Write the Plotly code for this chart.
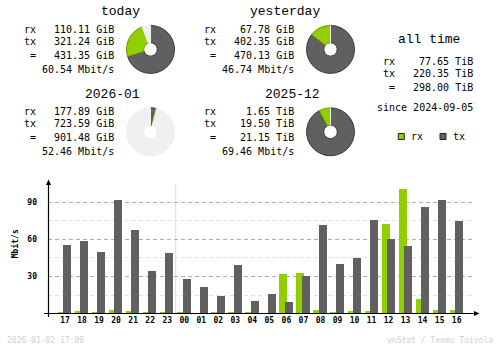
import plotly.graph_objects as go

# ---------------- data ----------------
hours = ["17", "18", "19", "20", "21", "22", "23", "00", "01", "02", "03", "04",
         "05", "06", "07", "08", "09", "10", "11", "12", "13", "14", "15", "16"]
rx_mbit = [1.1, 1.9, 1.1, 2.7, 1.9, 1.1, 1.1, 1.1, 0.3, 1.1, 1.1, 1.1,
           0.3, 31.9, 32.7, 2.7, 1.1, 1.9, 1.9, 72.4, 100.8, 11.6, 2.7, 2.7]
tx_mbit = [55.4, 58.7, 49.7, 91.9, 67.6, 34.3, 48.9, 27.8, 21.4, 14.1, 39.2, 10.0,
           15.7, 9.2, 30.3, 71.6, 40.0, 44.9, 75.7, 60.3, 54.6, 86.2, 91.9, 74.9]
y_ticks = [30, 60, 90]
y_minor = [15, 45, 75]

period_titles = ["today", "yesterday", "2026-01", "2025-12"]
period_rx = [110.11, 67.78, 177.89, 1.65]
period_tx = [321.24, 402.35, 723.59, 19.50]
period_total = [431.35, 470.13, 901.48, 21.15]
period_unit = ["GiB", "GiB", "GiB", "TiB"]
period_rate = [60.54, 46.74, 52.46, 69.46]
period_fill = [0.943, 1.0, 0.0416, 1.0]   # share of the ring that is used

alltime_rx = "77.65 TiB"
alltime_tx = "220.35 TiB"
alltime_total = "298.00 TiB"
since_text = "since 2024-09-05"
stamp_text = "2026-01-02 17:00"
credit_text = "vnStat / Teemu Toivola"

# ---------------- styling ----------------
W, H = 500, 348
C_RX, C_TX, C_BG2 = "#92CF00", "#606060", "#F0F0F0"
C_RXD, C_TXD = "#6E9C00", "#3A3A3A"
MONO = "DejaVu Sans Mono"
TITLE_FONT = "Liberation Mono"


def px(x):
    return x / W


def py(y):
    return 1 - y / H


fig = go.Figure()

# ---------------- hourly bars ----------------
xs = list(range(len(hours)))
fig.add_trace(go.Bar(x=xs, y=rx_mbit, marker=dict(color=C_RX, line=dict(width=0)),
                     width=0.47, offset=-0.41, showlegend=False, hoverinfo="skip"))
fig.add_trace(go.Bar(x=xs, y=tx_mbit, marker=dict(color=C_TX, line=dict(width=0)),
                     width=0.47, offset=-0.10, showlegend=False, hoverinfo="skip"))

# ---------------- donuts ----------------
centers = [(150.5, 49.4), (330.5, 49.4), (150.5, 131.8), (330.5, 131.8)]
R = 24.0
for i, (cx, cy) in enumerate(centers):
    tot = period_total[i]
    rest = tot / period_fill[i] - tot
    fig.add_trace(go.Pie(
        values=[period_tx[i], period_rx[i], rest],
        marker=dict(colors=[C_TX, C_RX, C_BG2],
                    line=dict(color=[C_TXD, C_RXD, C_BG2], width=1)),
        sort=False, direction="clockwise", rotation=0, hole=0.28,
        textinfo="none", hoverinfo="skip", showlegend=False,
        domain=dict(x=[px(cx - R), px(cx + R)], y=[py(cy + R), py(cy - R)]),
    ))

annotations = []
shapes = []


def txt(x, y, s, size=10, anchor="right", color="#000000", font=MONO, angle=0):
    annotations.append(dict(x=px(x), y=py(y), xref="paper", yref="paper", text=s,
                            showarrow=False, xanchor=anchor, yanchor="middle",
                            textangle=angle,
                            font=dict(family=font, size=size, color=color)))


# period blocks
for i in range(4):
    dx = 180 * (i % 2)
    dy = 82.4 * (i // 2)
    u = period_unit[i]
    txt(142 + dx, 11.7 + dy, period_titles[i], size=13, font=TITLE_FONT)
    rows = [("rx", f"{period_rx[i]:.2f} {u}"),
            ("tx", f"{period_tx[i]:.2f} {u}"),
            ("=", f"{period_total[i]:.2f} {u}")]
    for (lab, val), yy in zip(rows, [29.3, 41.3, 55.0]):
        txt(37.5 + dx, yy + dy, lab)
        txt(115.5 + dx, yy + dy, val)
    txt(115.5 + dx, 69.3 + dy, f"{period_rate[i]:.2f} Mbit/s")

# all time block
txt(428.7, 39.3, "all time", size=13, anchor="center", font=TITLE_FONT)
for (lab, val), yy in zip([("rx", alltime_rx), ("tx", alltime_tx), ("=", alltime_total)],
                          [61.7, 73.3, 87.7]):
    txt(396.5, yy, lab)
    txt(474.5, yy, val)
txt(474.5, 107.7, since_text)

# legend
for x0, col, lab in [(398.3, C_RX, "rx"), (440.0, C_TX, "tx")]:
    shapes.append(dict(type="rect", xref="paper", yref="paper",
                       x0=px(x0), x1=px(x0 + 6), y0=py(139.5), y1=py(133.5),
                       fillcolor=col, line=dict(color="#202020", width=1)))
    txt(x0 + 10.5, 136.3, lab, anchor="left")

# footer
txt(5, 340.3, stamp_text, size=8, anchor="left", color="#D0D0D0")
txt(495, 340.3, credit_text, size=8, anchor="right", color="#D0D0D0")

# y axis title
txt(14.5, 243.7, "<b>Mbit/s</b>", size=8, anchor="center", angle=-90)

# axis lines + arrows (decoration)
shapes.append(dict(type="line", xref="paper", yref="paper", x0=px(44), x1=px(477),
                   y0=py(313.5), y1=py(313.5), line=dict(color="#000000", width=1.2)))
shapes.append(dict(type="line", xref="paper", yref="paper", x0=px(48.5), x1=px(48.5),
                   y0=py(317), y1=py(183), line=dict(color="#000000", width=1.2)))
shapes.append(dict(type="path", xref="paper", yref="paper",
                   path=f"M {px(46)},{py(185)} L {px(51)},{py(185)} L {px(48.5)},{py(179.5)} Z",
                   fillcolor="#000000", line=dict(width=0)))
shapes.append(dict(type="path", xref="paper", yref="paper",
                   path=f"M {px(474)},{py(311)} L {px(474)},{py(316)} L {px(479.5)},{py(313.5)} Z",
                   fillcolor="#000000", line=dict(width=0)))

# day boundary
shapes.append(dict(type="line", xref="x", yref="y", x0=6.5, x1=6.5, y0=0, y1=104.6,
                   line=dict(color="#DCDCDC", width=1), layer="below"))

fig.update_layout(
    width=W, height=H,
    margin=dict(l=0, r=0, t=0, b=0),
    paper_bgcolor="#FFFFFF", plot_bgcolor="#FFFFFF",
    barmode="overlay", bargap=0,
    annotations=annotations, shapes=shapes,
    xaxis=dict(domain=[px(48), px(473)], range=[-1.0, 23.96],
               tickvals=xs, ticktext=[f"<b>{h}</b>" for h in hours],
               showgrid=False, zeroline=False,
               showline=False, ticks="", automargin=False,
               tickfont=dict(family=MONO, size=8, color="#000000")),
    yaxis=dict(domain=[py(313.5), py(182)], range=[0, 106.6],
               tickvals=y_ticks, ticktext=[f"<b>{v}</b>" for v in y_ticks],
               showgrid=True, gridcolor="#B0B0B0",
               griddash="4px,3px", gridwidth=1, zeroline=False, showline=False,
               ticks="", automargin=False, ticklabelstandoff=10,
               tickfont=dict(family=MONO, size=8, color="#000000"),
               minor=dict(tickvals=y_minor, showgrid=True, gridcolor="#E0E0E0",
                          griddash="4px,3px", gridwidth=1)),
)

fig.write_html("out.html")
